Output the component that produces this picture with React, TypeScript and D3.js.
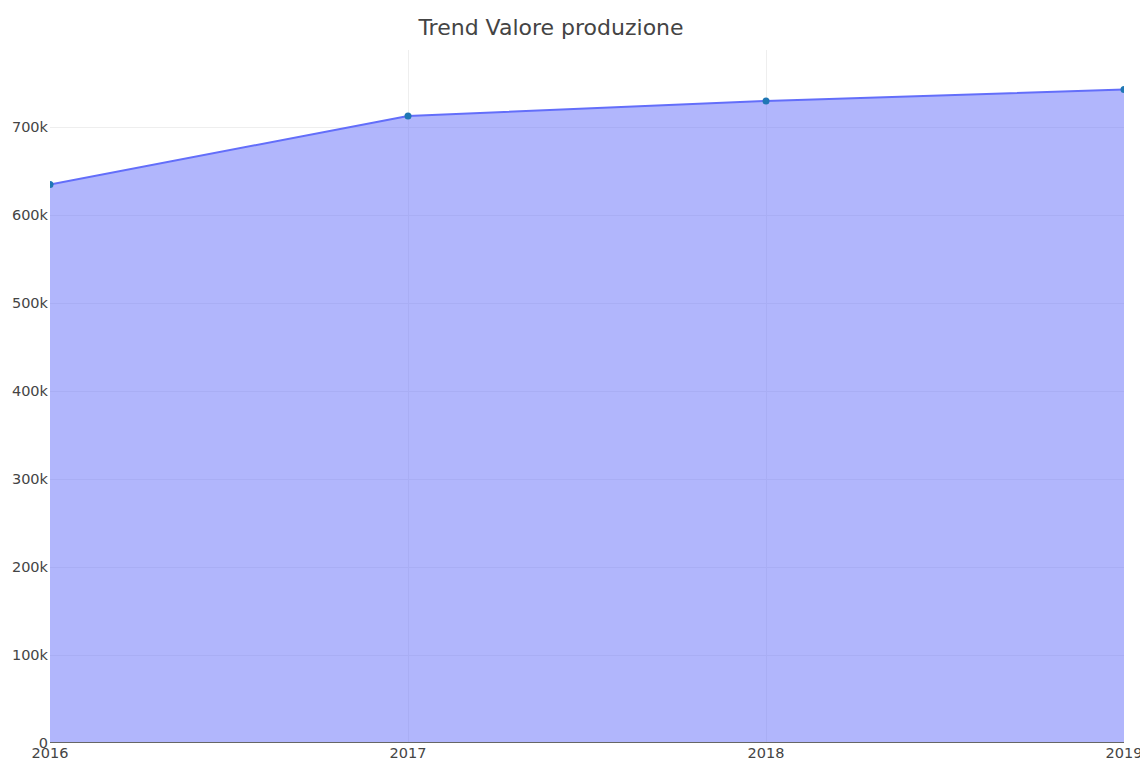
import React, { useEffect, useRef } from "react";
import * as d3 from "d3";

const years = ["2016", "2017", "2018", "2019"];
const values = [635000, 713000, 730000, 743000];
const yTicks = [0, 100000, 200000, 300000, 400000, 500000, 600000, 700000];

export default function App() {
  const svgRef = useRef<SVGSVGElement | null>(null);

  useEffect(() => {
    if (!svgRef.current) return;
    const svg = d3.select(svgRef.current);
    svg.selectAll("*").remove();

    const left = 50;
    const right = 1124;
    const top = 50;
    const bottom = 742.5;
    const font = "'DejaVu Sans', sans-serif";

    const x = d3.scalePoint<string>().domain(years).range([left, right]);
    const y = d3.scaleLinear().domain([0, 788000]).range([bottom, top]);

    // title
    svg.append("text")
      .attr("x", 551)
      .attr("y", 35)
      .attr("text-anchor", "middle")
      .attr("font-family", font)
      .attr("font-size", 22)
      .attr("fill", "#444")
      .text("Trend Valore produzione");

    // grid
    const grid = svg.append("g").attr("stroke", "#eeeeee").attr("stroke-width", 1);
    yTicks.filter((t) => t > 0).forEach((t) => {
      grid.append("line")
        .attr("x1", left).attr("x2", right)
        .attr("y1", Math.round(y(t)) + 0.5).attr("y2", Math.round(y(t)) + 0.5);
    });
    years.slice(1, -1).forEach((yr) => {
      grid.append("line")
        .attr("y1", top).attr("y2", bottom)
        .attr("x1", Math.round(x(yr)!) + 0.5).attr("x2", Math.round(x(yr)!) + 0.5);
    });

    const defs = svg.append("defs");
    defs.append("clipPath").attr("id", "plot-clip")
      .append("rect")
      .attr("x", left).attr("y", top)
      .attr("width", right - left).attr("height", bottom - top);

    const plot = svg.append("g").attr("clip-path", "url(#plot-clip)");

    const area = d3.area<number>()
      .x((_, i) => x(years[i])!)
      .y0(y(0))
      .y1((d) => y(d));
    const line = d3.line<number>()
      .x((_, i) => x(years[i])!)
      .y((d) => y(d));

    plot.append("path")
      .datum(values)
      .attr("fill", "#636efa")
      .attr("fill-opacity", 0.5)
      .attr("d", area);

    plot.append("path")
      .datum(values)
      .attr("fill", "none")
      .attr("stroke", "#636efa")
      .attr("stroke-width", 2)
      .attr("stroke-linejoin", "round")
      .attr("d", line);

    plot.selectAll("circle")
      .data(values)
      .enter()
      .append("circle")
      .attr("cx", (_, i) => x(years[i])!)
      .attr("cy", (d) => y(d))
      .attr("r", 3.5)
      .attr("fill", "#1f77b4");

    // x axis line
    svg.append("line")
      .attr("x1", left).attr("x2", right)
      .attr("y1", bottom).attr("y2", bottom)
      .attr("stroke", "#666")
      .attr("stroke-width", 1);

    // y tick labels
    svg.append("g")
      .selectAll("text")
      .data(yTicks)
      .enter()
      .append("text")
      .attr("x", 48)
      .attr("y", (d) => y(d))
      .attr("dy", "0.35em")
      .attr("text-anchor", "end")
      .attr("font-family", font)
      .attr("font-size", 14.5)
      .attr("fill", "#444")
      .text((d) => (d === 0 ? "0" : `${d / 1000}k`));

    // x tick labels
    svg.append("g")
      .selectAll("text")
      .data(years)
      .enter()
      .append("text")
      .attr("x", (d) => x(d)!)
      .attr("y", 758)
      .attr("text-anchor", "middle")
      .attr("font-family", font)
      .attr("font-size", 14.5)
      .attr("fill", "#444")
      .text((d) => d);
  }, []);

  return (
    <svg
      ref={svgRef}
      width={1140}
      height={760}
      style={{ position: "absolute", left: 0, top: 0, background: "#fff" }}
    />
  );
}
